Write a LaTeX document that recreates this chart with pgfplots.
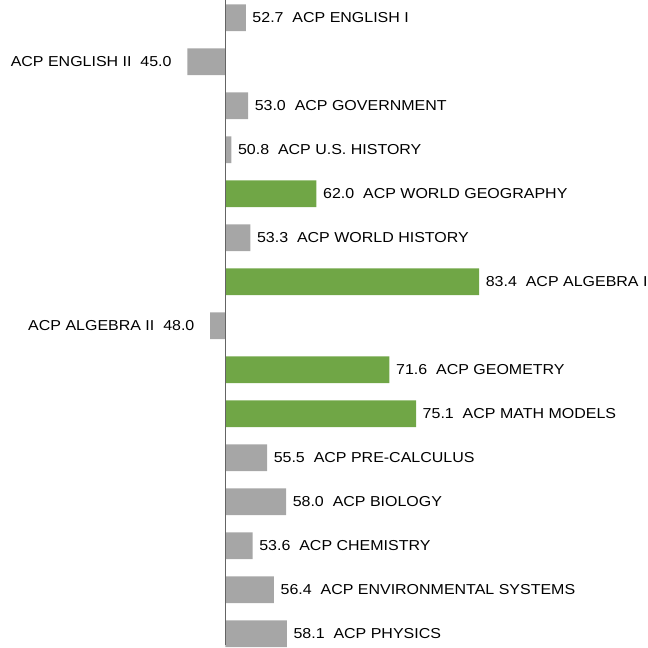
\documentclass[border=0pt]{standalone}
\usepackage{pgfplots}
\pgfplotsset{compat=1.18}
\usepackage{pgfplotstable}
\usepackage{fontspec}
\setmainfont{Liberation Sans}
\newfontfamily\lblfont{Liberation Sans}[FakeStretch=1.11]
\definecolor{bargray}{RGB}{166,166,166}
\definecolor{bargreen}{RGB}{112,166,70}
\definecolor{axisline}{RGB}{100,100,100}

\pgfplotstableread[col sep=semicolon]{
row;score;subject
15;52.7;ACP ENGLISH I
13;53.0;ACP GOVERNMENT
12;50.8;ACP U.S. HISTORY
10;53.3;ACP WORLD HISTORY
5;55.5;ACP PRE-CALCULUS
4;58.0;ACP BIOLOGY
3;53.6;ACP CHEMISTRY
2;56.4;ACP ENVIRONMENTAL SYSTEMS
1;58.1;ACP PHYSICS
}\grayup

\pgfplotstableread[col sep=semicolon]{
row;score;subject
11;62.0;ACP WORLD GEOGRAPHY
9;83.4;ACP ALGEBRA I
7;71.6;ACP GEOMETRY
6;75.1;ACP MATH MODELS
}\greenup

\pgfplotstableread[col sep=semicolon]{
row;score;subject
14;45.0;ACP ENGLISH II
8;48.0;ACP ALGEBRA II
}\graydown

\begin{document}
\begin{tikzpicture}
\begin{axis}[
  scale only axis, width=648bp, height=644bp,
  xmin=-29.64, xmax=55.62, ymin=0.757, ymax=15.393,
  hide axis, clip=false,
  xbar,
  every axis plot/.append style={bar shift=0pt, bar width=26.7bp, draw=none},
  point meta=explicit symbolic,
  visualization depends on={\thisrow{score} \as \rawscore},
  /pgf/number format/assume math mode=true,
]
\path (rel axis cs:0,0) rectangle (rel axis cs:1,1);

\addplot[fill=bargray,
  nodes near coords={\pgfmathprintnumber[fixed,fixed zerofill,precision=1]{\rawscore}\ \ \pgfplotspointmeta},
  every node near coord/.style={anchor=base west, inner sep=0pt, xshift=6.5bp, yshift=-5.1bp, font=\lblfont\fontsize{14.4bp}{17bp}\selectfont, text=black}]
  table[x expr=\thisrow{score}-50, y=row, meta=subject] {\grayup};

\addplot[fill=bargreen,
  nodes near coords={\pgfmathprintnumber[fixed,fixed zerofill,precision=1]{\rawscore}\ \ \pgfplotspointmeta},
  every node near coord/.style={anchor=base west, inner sep=0pt, xshift=6.5bp, yshift=-5.1bp, font=\lblfont\fontsize{14.4bp}{17bp}\selectfont, text=black}]
  table[x expr=\thisrow{score}-50, y=row, meta=subject] {\greenup};

\addplot[fill=bargray,
  nodes near coords={\pgfplotspointmeta\ \ \pgfmathprintnumber[fixed,fixed zerofill,precision=1]{\rawscore}},
  every node near coord/.style={anchor=base east, inner sep=0pt, xshift=-15.5bp, yshift=-5.1bp, font=\lblfont\fontsize{14.4bp}{17bp}\selectfont, text=black}]
  table[x expr=\thisrow{score}-50, y=row, meta=subject] {\graydown};

\draw[axisline, line width=1bp] (axis cs:0,0.757) -- (axis cs:0,15.393);
\end{axis}
\end{tikzpicture}
\end{document}
